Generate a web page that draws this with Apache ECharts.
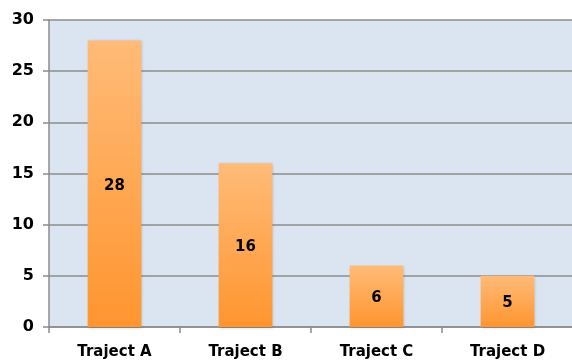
<!DOCTYPE html>
<html>
<head>
<meta charset="utf-8">
<script src="https://cdn.jsdelivr.net/npm/echarts@6/dist/echarts.min.js"></script>
<style>
html, body { margin: 0; padding: 0; background: #fff; }
#chart { width: 572px; height: 360px; }
</style>
</head>
<body>
<div id="chart"></div>
<script>
var categories = ['Traject A', 'Traject B', 'Traject C', 'Traject D'];
var values = [28, 16, 6, 5];
var yTicks = [0, 5, 10, 15, 20, 25, 30];

var myChart = echarts.init(document.getElementById('chart'));

var option = {
    animation: false,
    grid: {
        left: 49,
        right: -1,
        top: 20,
        bottom: 33,
        outerBoundsMode: 'none',
        show: true,
        backgroundColor: '#dbe5f1',
        borderWidth: 0
    },
    xAxis: {
        type: 'category',
        data: categories,
        axisLine: { lineStyle: { color: '#8c8c8c', width: 1.5 } },
        axisTick: { show: true, length: 6, lineStyle: { color: '#8c8c8c', width: 1.5 } },
        axisLabel: {
            color: '#000',
            fontFamily: 'DejaVu Sans',
            fontWeight: 'bold',
            fontSize: 15,
            margin: 18
        }
    },
    yAxis: {
        type: 'value',
        min: yTicks[0],
        max: yTicks[yTicks.length - 1],
        interval: 5,
        axisLine: { show: true, lineStyle: { color: '#8c8c8c', width: 1.5 } },
        axisTick: { show: true, length: 6, lineStyle: { color: '#8c8c8c', width: 1.5 } },
        splitLine: { lineStyle: { color: '#8c8c8c', width: 1.5 } },
        axisLabel: {
            color: '#000',
            fontFamily: 'DejaVu Sans',
            fontWeight: 'bold',
            fontSize: 16,
            margin: 15
        }
    },
    series: [
        {
            type: 'bar',
            data: values,
            barWidth: '41%',
            itemStyle: {
                color: new echarts.graphic.LinearGradient(0, 0, 0, 1, [
                    { offset: 0, color: '#ffbb78' },
                    { offset: 1, color: '#ff952f' }
                ]),
                shadowColor: 'rgba(0,0,0,0.2)',
                shadowBlur: 3,
                shadowOffsetX: 1,
                shadowOffsetY: 1
            },
            label: {
                show: true,
                position: 'inside',
                offset: [0, 2],
                color: '#000',
                fontFamily: 'DejaVu Sans',
                fontWeight: 'bold',
                fontSize: 15
            }
        }
    ]
};

myChart.setOption(option);
</script>
</body>
</html>
